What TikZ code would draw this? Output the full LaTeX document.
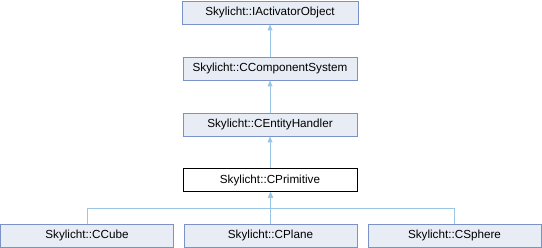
\documentclass[tikz,border=0pt]{standalone}
\usepackage{fontspec}
\setmainfont{Liberation Sans}
\usetikzlibrary{arrows.meta}
\definecolor{boxfill}{RGB}{232,236,245}
\definecolor{boxdraw}{RGB}{122,146,200}
\definecolor{edgecol}{RGB}{155,197,228}
\begin{document}
\begin{tikzpicture}[x=1pt,y=-1pt,
  cls/.style={draw=boxdraw,fill=boxfill,line width=0.9pt,rectangle,inner sep=0pt,
    minimum height=23pt,font=\fontsize{11.7}{13}\selectfont},
  cur/.style={cls,draw=black,fill=white},
  edge/.style={draw=edgecol,line width=0.9pt,{Triangle[width=5pt,length=6pt]}-}]
\useasboundingbox (0,0) rectangle (542,248);
\node[cls,minimum width=176pt] (iao) at (270,12.5) {Skylicht::IActivatorObject};
\node[cls,minimum width=174pt] (ccs) at (270,68.5) {Skylicht::CComponentSystem};
\node[cls,minimum width=174pt] (ceh) at (270,124.5) {Skylicht::CEntityHandler};
\node[cur,minimum width=174pt] (cpr) at (270,180) {Skylicht::CPrimitive};
\node[cls,minimum width=173pt] (ccu) at (87,235.5) {Skylicht::CCube};
\node[cls,minimum width=173pt] (cpl) at (270.5,235.5) {Skylicht::CPlane};
\node[cls,minimum width=173pt] (csp) at (454.5,235.5) {Skylicht::CSphere};
\coordinate (j) at (270.5,208);
\draw[edge] (iao.south) -- (ccs.north);
\draw[edge] (ccs.south) -- (ceh.north);
\draw[edge] (ceh.south) -- (cpr.north);
\draw[edge] (cpr.south -| j) -- (j) -| (ccu.north);
\draw[edge] (cpr.south -| j) -- (cpl.north);
\draw[edge] (cpr.south -| j) -- (j) -| (csp.north);
\end{tikzpicture}
\end{document}
